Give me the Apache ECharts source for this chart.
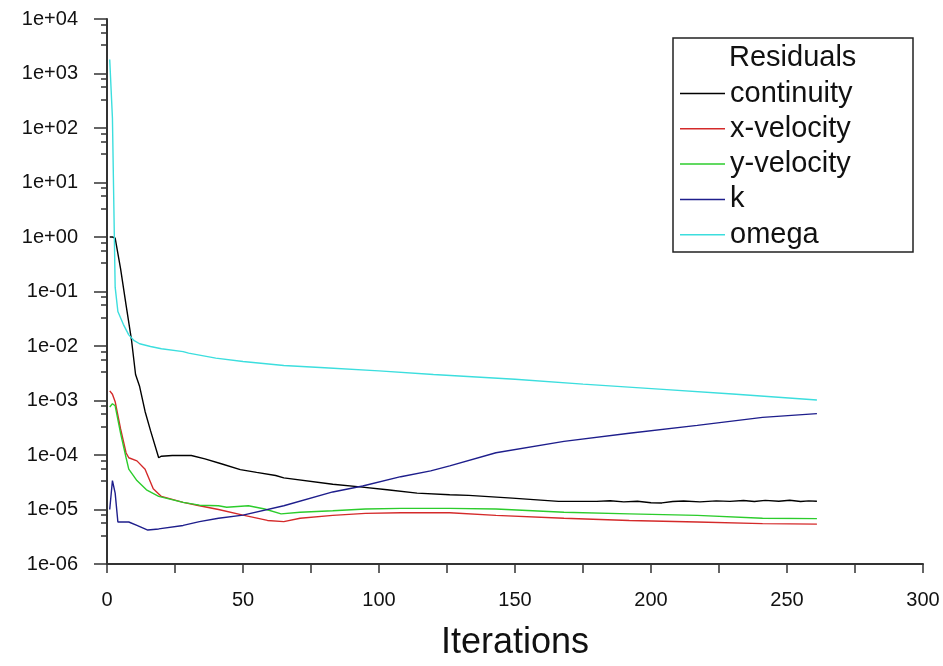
<!DOCTYPE html>
<html><head><meta charset="utf-8">
<script src="https://cdn.jsdelivr.net/npm/echarts@6/dist/echarts.min.js"></script>
<style>html,body{margin:0;padding:0;background:#fff}#c{width:943px;height:666px}</style>
</head><body><div id="c"></div>
<script>
// ---- data ----
const seriesNames = ['continuity', 'x-velocity', 'y-velocity', 'k', 'omega'];
const legendTitle = 'Residuals';
const xAxisName = 'Iterations';
const xMin = 0, xMax = 300, xLabelStep = 50;
const yMin = 1e-6, yMax = 1e4;
const yMinorMultipliers = [3.3, 5.7, 8];

const iterContinuity = [1, 2, 3, 5, 7, 9, 10.5, 12, 14, 16, 19, 20, 24, 31, 36, 42, 49, 55, 62, 65, 83, 93, 103, 114, 126, 133, 149, 166, 180, 185, 190, 195, 200, 204, 208, 212, 218, 224, 229, 234, 238, 242, 247, 251, 255, 258, 261];
const continuity = [1.0, 1.0, 0.95, 0.26, 5.7e-2, 1.3e-2, 3.0e-3, 1.8e-3, 6.3e-4, 2.8e-4, 8.9e-5, 9.5e-5, 9.8e-5, 9.8e-5, 8.5e-5, 6.9e-5, 5.4e-5, 4.8e-5, 4.2e-5, 3.8e-5, 2.9e-5, 2.6e-5, 2.3e-5, 2.0e-5, 1.86e-5, 1.82e-5, 1.62e-5, 1.41e-5, 1.41e-5, 1.45e-5, 1.38e-5, 1.42e-5, 1.33e-5, 1.32e-5, 1.40e-5, 1.43e-5, 1.38e-5, 1.44e-5, 1.41e-5, 1.46e-5, 1.40e-5, 1.47e-5, 1.42e-5, 1.48e-5, 1.40e-5, 1.44e-5, 1.42e-5];

const iterXVel = [1, 2, 3, 5, 7, 8, 11, 14, 17, 20, 28, 34, 41, 50, 59, 65, 71, 83, 95, 108, 126, 143, 168, 192, 217, 241, 261];
const xVelocity = [1.5e-3, 1.3e-3, 9.5e-4, 3.0e-4, 1.1e-4, 8.9e-5, 7.8e-5, 5.5e-5, 2.4e-5, 1.74e-5, 1.35e-5, 1.17e-5, 1.0e-5, 7.9e-6, 6.3e-6, 6.0e-6, 6.9e-6, 7.8e-6, 8.5e-6, 8.7e-6, 8.7e-6, 7.8e-6, 6.9e-6, 6.3e-6, 5.9e-6, 5.5e-6, 5.4e-6];

const iterYVel = [1, 2, 3, 5, 7, 8, 11, 14.5, 19, 28, 34, 41, 44, 52, 58, 64, 71, 83, 95, 108, 126, 143, 168, 192, 217, 241, 261];
const yVelocity = [7.6e-4, 8.7e-4, 8.0e-4, 2.5e-4, 9.0e-5, 5.5e-5, 3.4e-5, 2.3e-5, 1.74e-5, 1.35e-5, 1.2e-5, 1.17e-5, 1.1e-5, 1.17e-5, 1.02e-5, 8.3e-6, 8.9e-6, 9.5e-6, 1.02e-5, 1.05e-5, 1.05e-5, 1.02e-5, 8.9e-6, 8.3e-6, 7.8e-6, 6.9e-6, 6.8e-6];

const iterK = [1, 2, 3, 4, 6, 8, 11, 15, 19, 28, 34, 41, 50, 65, 83, 94, 108, 119, 126, 143, 168, 192, 217, 241, 261];
const kRes = [1.0e-5, 3.4e-5, 2.0e-5, 5.9e-6, 5.9e-6, 5.9e-6, 5.1e-6, 4.2e-6, 4.4e-6, 5.1e-6, 6.0e-6, 6.9e-6, 7.9e-6, 1.17e-5, 2.1e-5, 2.7e-5, 4.0e-5, 5.1e-5, 6.3e-5, 1.1e-4, 1.78e-4, 2.5e-4, 3.5e-4, 4.9e-4, 5.75e-4];

const iterOmega = [1, 2, 3, 4, 6, 8, 10, 12, 16, 20, 28, 30, 40, 50, 65, 80, 100, 120, 150, 175, 203, 230, 261];
const omega = [1.8e3, 1.5e2, 1.2e-1, 4.3e-2, 2.5e-2, 1.6e-2, 1.25e-2, 1.1e-2, 9.8e-3, 8.9e-3, 7.9e-3, 7.4e-3, 6.0e-3, 5.2e-3, 4.4e-3, 4.0e-3, 3.5e-3, 3.0e-3, 2.45e-3, 2.0e-3, 1.62e-3, 1.32e-3, 1.02e-3];

// ---- styling ----
const colors = ['#000000', '#d42a2a', '#2ccc2c', '#1e1e8c', '#3cdede'];
const FONT = '"Liberation Sans", Arial, sans-serif';
const AXIS_COLOR = '#333333';

const pairs = (xs, ys) => xs.map((x, i) => [x, ys[i]]);
const allData = [
  pairs(iterContinuity, continuity),
  pairs(iterXVel, xVelocity),
  pairs(iterYVel, yVelocity),
  pairs(iterK, kRes),
  pairs(iterOmega, omega)
];

function sci(v) {
  const e = Math.round(Math.log10(v));
  return '1e' + (e < 0 ? '-' : '+') + String(Math.abs(e)).padStart(2, '0');
}

const lo = Math.round(Math.log10(yMin)), hi = Math.round(Math.log10(yMax));
const minorLogTicks = [];
for (let e = lo; e < hi; e++) yMinorMultipliers.forEach(m => minorLogTicks.push(e + Math.log10(m)));

const grid = { left: 107, top: 19, width: 816, height: 554 };
const chart = echarts.init(document.getElementById('c'), null, { renderer: 'canvas' });
chart.setOption({
  animation: false,
  backgroundColor: '#ffffff',
  grid: grid,
  xAxis: {
    type: 'value', min: xMin, max: xMax, interval: xLabelStep,
    name: xAxisName, nameLocation: 'middle', nameGap: 61,
    nameTextStyle: { fontFamily: FONT, fontSize: 36, color: '#111' },
    axisLine: { show: true, onZero: false, lineStyle: { color: AXIS_COLOR, width: 2 } },
    axisTick: { show: true, length: 9, lineStyle: { color: AXIS_COLOR, width: 1.5 } },
    minorTick: { show: true, splitNumber: 2, length: 9, lineStyle: { color: AXIS_COLOR, width: 1.5 } },
    splitLine: { show: false },
    axisLabel: { fontFamily: FONT, fontSize: 20, color: '#111', margin: 26 }
  },
  yAxis: [{
    type: 'log', logBase: 10, min: yMin, max: yMax, interval: 1,
    axisLine: { show: true, onZero: false, lineStyle: { color: AXIS_COLOR, width: 2 } },
    axisTick: { show: true, length: 13, lineStyle: { color: AXIS_COLOR, width: 1.5 } },
    splitLine: { show: false },
    axisLabel: { fontFamily: FONT, fontSize: 20, color: '#111', margin: 29, formatter: sci }
  }, {
    type: 'value', min: lo, max: hi, position: 'left',
    axisLine: { show: false, onZero: false },
    axisLabel: { show: false },
    splitLine: { show: false },
    axisTick: { show: true, length: 6, customValues: minorLogTicks, lineStyle: { color: AXIS_COLOR, width: 1.5 } }
  }],
  legend: {
    data: seriesNames,
    orient: 'vertical', left: 675, top: 74,
    icon: 'rect', itemWidth: 45, itemHeight: 1.5, itemGap: 6.3,
    textStyle: { fontFamily: FONT, fontSize: 29, color: '#111', lineHeight: 28 },
    selectedMode: false
  },
  graphic: [
    { type: 'rect', z: -1, shape: { x: 673, y: 38, width: 240, height: 214 },
      style: { fill: '#ffffff', stroke: '#222222', lineWidth: 1.5 } },
    { type: 'text', left: 729, top: 43, z: 10,
      style: { text: legendTitle, font: '29px ' + FONT, fill: '#111' } }
  ],
  series: seriesNames.map((name, i) => ({
    name: name, type: 'line', yAxisIndex: 0, data: allData[i],
    showSymbol: false, symbol: 'none', smooth: false,
    color: colors[i],
    lineStyle: { color: colors[i], width: 1.4 },
    z: 2
  }))
});
</script></body></html>
